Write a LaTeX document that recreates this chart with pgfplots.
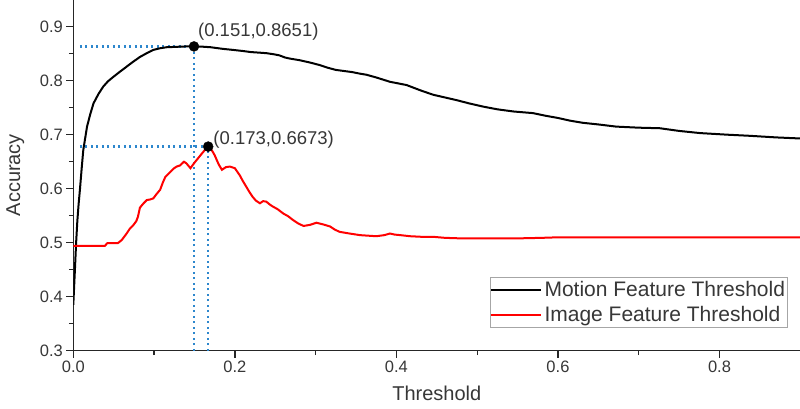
\documentclass[border=0pt]{standalone}
\usepackage{pgfplots}
\pgfplotsset{compat=1.18}
\usepackage{fontspec}
\setmainfont{Liberation Sans}
\definecolor{txt}{RGB}{55,55,55}
\definecolor{dotblue}{RGB}{45,135,205}
\begin{document}
\begin{tikzpicture}
\begin{axis}[
  at={(0,0)}, anchor=south west,
  scale only axis, width=727pt, height=351pt,
  xmin=0, xmax=0.9, ymin=0.3, ymax=0.95,
  axis lines=left,
  axis line style={-, line width=1.4pt, black!85},
  tick align=outside,
  major tick length=7pt, minor tick length=4.5pt,
  every tick/.style={line width=1.3pt, black!85},
  xtick={0,0.2,0.4,0.6,0.8},
  minor xtick={0.1,0.3,0.5,0.7,0.9},
  ytick={0.3,0.4,0.5,0.6,0.7,0.8,0.9},
  minor ytick={0.35,0.45,0.55,0.65,0.75,0.85},
  /pgf/number format/assume math mode=true,
  xticklabel style={/pgf/number format/.cd, fixed, fixed zerofill, precision=1},
  yticklabel style={/pgf/number format/.cd, fixed, fixed zerofill, precision=1},
  tick label style={font=\fontsize{16.5}{18}\selectfont, text=txt},
  xlabel={Threshold}, ylabel={Accuracy},
  label style={font=\fontsize{20}{22}\selectfont, text=txt},
  xlabel style={at={(axis description cs:0.5,-0.1214)}, anchor=center},
  ylabel style={at={(axis description cs:-0.0798,0.5)}, anchor=center},
  legend style={at={(axis description cs:0.983,0.0647)}, anchor=south east,
    draw=black!35, line width=0.9pt, font=\fontsize{21}{23}\selectfont, text=txt,
    inner xsep=0pt, inner ysep=3pt, /tikz/row sep=5pt,
    nodes={inner xsep=2.5pt, inner ysep=1.5pt}},
  legend cell align=left,
  legend image code/.code={\draw[#1, line width=2pt] (0pt,0pt) -- (50pt,0pt);},
]
% dotted guide lines
\addplot[forget plot, dotblue, line width=2.3pt, dash pattern=on 2.2pt off 3.3pt] coordinates {(0.008,0.8635) (0.1494,0.8635)};
\addplot[forget plot, dotblue, line width=2.3pt, dash pattern=on 2.2pt off 3.3pt] coordinates {(0.1494,0.3) (0.1494,0.8635)};
\addplot[forget plot, dotblue, line width=2.3pt, dash pattern=on 2.2pt off 3.3pt] coordinates {(0.008,0.678) (0.167,0.678)};
\addplot[forget plot, dotblue, line width=2.3pt, dash pattern=on 2.2pt off 3.3pt] coordinates {(0.167,0.3) (0.167,0.678)};

\addplot[black, line width=2pt] coordinates {
(0,0.385) (0.002,0.45) (0.0035,0.50) (0.005,0.54) (0.0065,0.57) (0.0083,0.60)
(0.0105,0.64) (0.0124,0.672) (0.017,0.715) (0.021,0.738) (0.025,0.758)
(0.031,0.775) (0.037,0.789) (0.043,0.799) (0.0495,0.807) (0.058,0.817)
(0.066,0.826) (0.074,0.835) (0.0825,0.844) (0.091,0.851) (0.099,0.857)
(0.107,0.860) (0.1155,0.862) (0.124,0.8625) (0.132,0.863) (0.140,0.8635)
(0.1494,0.8635) (0.16,0.863) (0.17,0.862) (0.185,0.859) (0.198,0.857)
(0.21,0.855) (0.22,0.853) (0.23,0.852) (0.239,0.851) (0.248,0.849)
(0.255,0.847) (0.262,0.843) (0.268,0.841) (0.280,0.838) (0.292,0.834)
(0.305,0.829) (0.315,0.824) (0.325,0.820) (0.335,0.818) (0.345,0.816)
(0.355,0.813) (0.363,0.811) (0.375,0.806) (0.392,0.798) (0.4125,0.792)
(0.43,0.782) (0.4455,0.774) (0.46,0.769) (0.4745,0.764) (0.49,0.758)
(0.5075,0.752) (0.525,0.747) (0.545,0.743) (0.569,0.740) (0.585,0.735)
(0.60,0.731) (0.615,0.726) (0.631,0.722) (0.65,0.719) (0.672,0.715)
(0.70,0.713) (0.726,0.712) (0.75,0.707) (0.776,0.703) (0.81,0.700)
(0.837,0.698) (0.87,0.695) (0.9,0.693)};
\addlegendentry{Motion Feature Threshold}

\addplot[red, line width=2pt] coordinates {
(0,0.494) (0.039,0.494) (0.042,0.499) (0.055,0.499) (0.060,0.505) (0.066,0.517)
(0.070,0.526) (0.074,0.532) (0.078,0.540) (0.080,0.548) (0.0825,0.565)
(0.087,0.573) (0.091,0.579) (0.095,0.580) (0.099,0.582) (0.103,0.590)
(0.1075,0.598) (0.111,0.612) (0.114,0.622) (0.12,0.631) (0.124,0.637)
(0.128,0.641) (0.132,0.643) (0.137,0.650) (0.14,0.647) (0.145,0.638)
(0.148,0.644) (0.151,0.650) (0.1575,0.662) (0.163,0.672) (0.167,0.676)
(0.169,0.675) (0.172,0.670) (0.175,0.662) (0.180,0.645) (0.184,0.635)
(0.189,0.640) (0.194,0.641) (0.2,0.638) (0.206,0.625) (0.21,0.614)
(0.214,0.604) (0.218,0.594) (0.222,0.585) (0.226,0.578) (0.231,0.573)
(0.235,0.577) (0.239,0.576) (0.243,0.571) (0.247,0.567) (0.253,0.562)
(0.26,0.554) (0.266,0.549) (0.272,0.542) (0.278,0.536) (0.285,0.531)
(0.293,0.533) (0.301,0.537) (0.309,0.534) (0.318,0.530) (0.324,0.524)
(0.33,0.520) (0.342,0.517) (0.355,0.514) (0.365,0.513) (0.375,0.512)
(0.385,0.514) (0.392,0.517) (0.398,0.515) (0.405,0.514) (0.417,0.512)
(0.43,0.511) (0.445,0.511) (0.46,0.509) (0.48,0.508) (0.5,0.508)
(0.55,0.508) (0.58,0.509) (0.6,0.510) (0.7,0.510) (0.8,0.510) (0.9,0.510)};
\addlegendentry{Image Feature Threshold}

\addplot[forget plot, only marks, mark=*, mark size=5pt, black] coordinates {(0.1494,0.8635) (0.167,0.678)};

\node[anchor=west, text=txt, font=\fontsize{18.5}{20}\selectfont, inner sep=0pt] at (axis cs:0.1543,0.8907) {(0.151,0.8651)};
\node[anchor=west, text=txt, font=\fontsize{18.5}{20}\selectfont, inner sep=0pt] at (axis cs:0.1733,0.690) {(0.173,0.6673)};
\end{axis}
\pgfresetboundingbox
\path[use as bounding box] (-73.3pt,-57.3pt) rectangle (726.7pt,350.7pt);
\end{tikzpicture}
\end{document}
